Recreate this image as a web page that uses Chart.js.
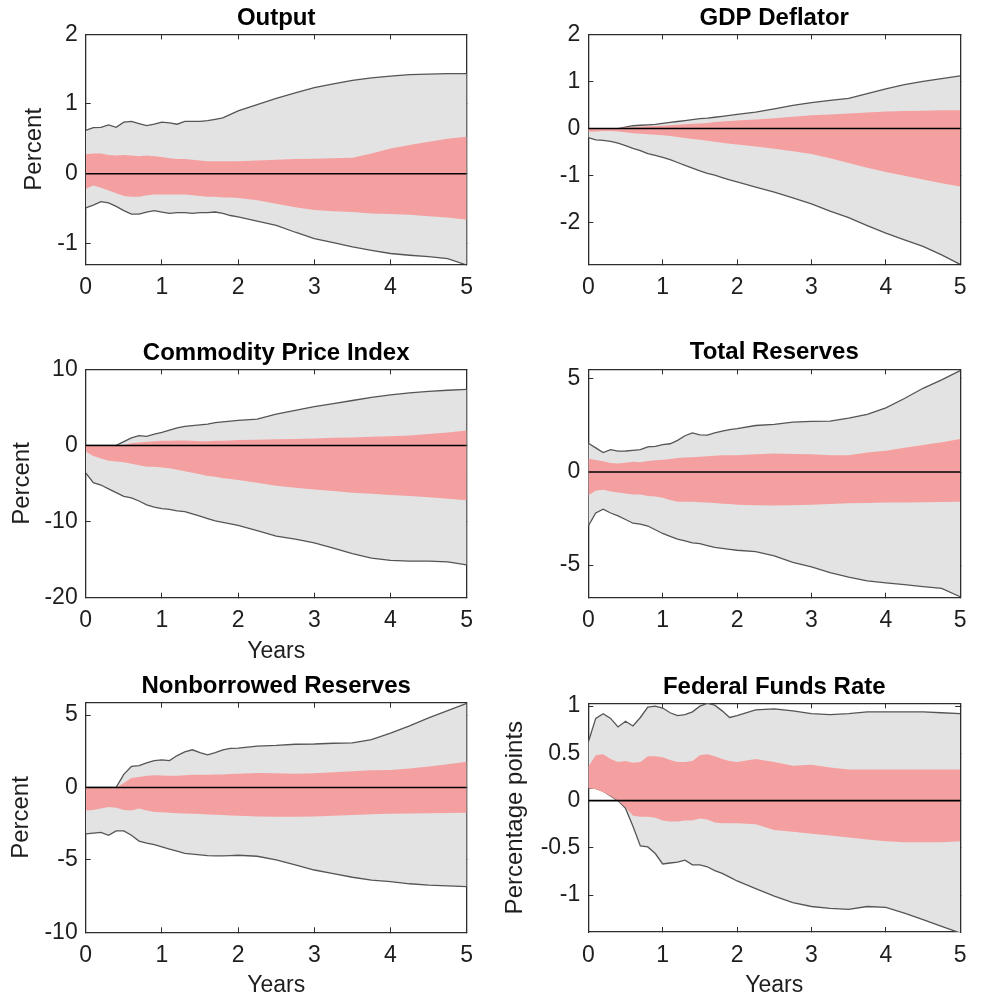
<!DOCTYPE html>
<html>
<head>
<meta charset="utf-8">
<script src="https://cdn.jsdelivr.net/npm/chart.js@4.4.1/dist/chart.umd.min.js"></script>
<style>
  html, body { margin: 0; padding: 0; background: #fff; overflow: hidden; }
  canvas { position: absolute; }
</style>
</head>
<body>
<canvas id="c1"></canvas>
<canvas id="c2"></canvas>
<canvas id="c3"></canvas>
<canvas id="c4"></canvas>
<canvas id="c5"></canvas>
<canvas id="c6"></canvas>
<script>
// horizon in years (shared by all panels)
const years = [0, 0.1, 0.2, 0.3, 0.4, 0.5, 0.6, 0.7, 0.8, 0.9,
  1.0, 1.1, 1.2, 1.3, 1.4, 1.5, 1.6, 1.7, 1.8, 1.9,
  2.0, 2.25, 2.5, 2.75, 3.0, 3.25, 3.5, 3.75, 4.0, 4.25, 4.5, 4.75, 5.0];
const xTicks = [0, 1, 2, 3, 4, 5];

// Output
const outputGrayHi = [0.62, 0.66, 0.665, 0.70, 0.665, 0.74, 0.75, 0.72, 0.69, 0.71,
  0.74, 0.73, 0.71, 0.75, 0.75, 0.75, 0.76, 0.78, 0.80, 0.85,
  0.90, 0.99, 1.08, 1.16, 1.235, 1.29, 1.34, 1.375, 1.40, 1.42, 1.43, 1.435, 1.435];
const outputGrayLo = [-0.49, -0.45, -0.40, -0.42, -0.47, -0.53, -0.58, -0.58, -0.55, -0.53,
  -0.55, -0.57, -0.56, -0.56, -0.57, -0.56, -0.56, -0.55, -0.57, -0.60,
  -0.62, -0.68, -0.74, -0.84, -0.93, -0.99, -1.05, -1.10, -1.145, -1.17, -1.19, -1.22, -1.31];
const outputPinkHi = [0.28, 0.29, 0.29, 0.27, 0.26, 0.27, 0.26, 0.25, 0.26, 0.25,
  0.24, 0.22, 0.21, 0.21, 0.20, 0.19, 0.18, 0.18, 0.18, 0.18,
  0.18, 0.19, 0.20, 0.21, 0.215, 0.22, 0.23, 0.29, 0.36, 0.41, 0.46, 0.50, 0.53];
const outputPinkLo = [-0.22, -0.17, -0.20, -0.24, -0.28, -0.32, -0.33, -0.33, -0.31, -0.30,
  -0.30, -0.30, -0.30, -0.30, -0.31, -0.32, -0.33, -0.33, -0.34, -0.34,
  -0.35, -0.38, -0.43, -0.48, -0.52, -0.54, -0.55, -0.57, -0.58, -0.59, -0.61, -0.63, -0.66];
const outputTicks = [-1, 0, 1, 2];

// GDP Deflator
const gdpGrayHi = [-0.02, -0.02, -0.02, -0.01, 0, 0.03, 0.06, 0.07, 0.08, 0.09,
  0.11, 0.13, 0.15, 0.17, 0.19, 0.21, 0.22, 0.24, 0.26, 0.28,
  0.30, 0.35, 0.42, 0.49, 0.55, 0.60, 0.64, 0.74, 0.84, 0.93, 1.00, 1.06, 1.12];
const gdpGrayLo = [-0.19, -0.24, -0.25, -0.27, -0.31, -0.36, -0.42, -0.47, -0.53, -0.57,
  -0.61, -0.66, -0.72, -0.78, -0.84, -0.90, -0.95, -0.99, -1.04, -1.09,
  -1.13, -1.24, -1.35, -1.47, -1.60, -1.75, -1.89, -2.06, -2.22, -2.36, -2.50, -2.68, -2.88];
const gdpPinkHi = [0, 0, 0, 0.005, 0.01, 0.02, 0.03, 0.04, 0.05, 0.055,
  0.06, 0.07, 0.08, 0.09, 0.10, 0.11, 0.12, 0.14, 0.15, 0.16,
  0.17, 0.19, 0.22, 0.25, 0.28, 0.30, 0.32, 0.34, 0.36, 0.37, 0.38, 0.39, 0.39];
const gdpPinkLo = [-0.07, -0.06, -0.05, -0.05, -0.06, -0.08, -0.10, -0.11, -0.12, -0.13,
  -0.14, -0.16, -0.18, -0.20, -0.22, -0.24, -0.26, -0.28, -0.30, -0.32,
  -0.34, -0.38, -0.43, -0.48, -0.54, -0.63, -0.73, -0.83, -0.92, -1.00, -1.08, -1.16, -1.23];
const gdpTicks = [-2, -1, 0, 1, 2];

// Commodity Price Index
const cpiGrayHi = [0, 0, 0, 0, 0, 0.5, 1.0, 1.3, 1.2, 1.5,
  1.7, 2.0, 2.3, 2.5, 2.6, 2.7, 2.8, 3.0, 3.1, 3.2,
  3.3, 3.45, 4.1, 4.6, 5.1, 5.5, 5.9, 6.3, 6.65, 6.9, 7.1, 7.25, 7.35];
const cpiGrayLo = [-3.6, -4.9, -5.2, -5.7, -6.2, -6.7, -6.9, -7.3, -7.8, -8.1,
  -8.3, -8.4, -8.6, -8.7, -9.0, -9.3, -9.6, -9.9, -10.1, -10.3,
  -10.5, -11.2, -11.9, -12.3, -12.8, -13.5, -14.2, -14.8, -15.1, -15.2, -15.2, -15.3, -15.7];
const cpiPinkHi = [0, 0, 0, 0, 0, 0.1, 0.3, 0.4, 0.5, 0.55,
  0.6, 0.6, 0.65, 0.65, 0.6, 0.55, 0.55, 0.6, 0.6, 0.65,
  0.7, 0.75, 0.8, 0.85, 0.9, 1.0, 1.05, 1.15, 1.2, 1.3, 1.5, 1.7, 1.95];
const cpiPinkLo = [-0.8, -1.4, -1.7, -2.0, -2.1, -2.2, -2.4, -2.6, -2.8, -2.8,
  -2.9, -3.0, -3.2, -3.4, -3.6, -3.8, -4.0, -4.1, -4.3, -4.4,
  -4.55, -4.9, -5.3, -5.55, -5.8, -6.0, -6.2, -6.35, -6.5, -6.65, -6.8, -7.0, -7.2];
const cpiTicks = [-20, -10, 0, 10];

// Total Reserves
const trGrayHi = [1.55, 1.30, 1.05, 1.2, 1.12, 1.13, 1.17, 1.20, 1.35, 1.38,
  1.47, 1.52, 1.7, 1.95, 2.1, 2.0, 1.98, 2.1, 2.2, 2.28,
  2.33, 2.5, 2.56, 2.68, 2.72, 2.74, 2.9, 3.1, 3.45, 3.95, 4.5, 4.95, 5.45];
const trGrayLo = [-2.9, -2.2, -2.0, -2.2, -2.35, -2.55, -2.75, -2.8, -2.9, -3.1,
  -3.3, -3.45, -3.6, -3.7, -3.8, -3.85, -3.95, -4.05, -4.1, -4.15,
  -4.2, -4.27, -4.5, -4.85, -5.1, -5.4, -5.65, -5.85, -5.95, -6.05, -6.15, -6.25, -6.7];
const trPinkHi = [0.72, 0.65, 0.58, 0.48, 0.46, 0.5, 0.55, 0.52, 0.6, 0.64,
  0.66, 0.7, 0.75, 0.78, 0.8, 0.82, 0.85, 0.88, 0.9, 0.9,
  0.9, 0.95, 1.0, 0.97, 0.95, 0.9, 0.9, 1.05, 1.15, 1.3, 1.45, 1.6, 1.78];
const trPinkLo = [-1.25, -1.0, -0.95, -1.05, -1.1, -1.15, -1.2, -1.2, -1.28, -1.32,
  -1.38, -1.5, -1.6, -1.6, -1.6, -1.62, -1.64, -1.66, -1.7, -1.72,
  -1.75, -1.78, -1.8, -1.78, -1.76, -1.72, -1.68, -1.66, -1.64, -1.63, -1.62, -1.61, -1.6];
const trTicks = [-5, 0, 5];

// Nonborrowed Reserves
const nbrGrayHi = [0, 0, 0, 0, 0, 0.9, 1.45, 1.5, 1.7, 1.85,
  1.9, 1.85, 2.2, 2.45, 2.6, 2.4, 2.25, 2.4, 2.6, 2.7,
  2.72, 2.85, 2.9, 2.98, 3.0, 3.05, 3.08, 3.3, 3.75, 4.25, 4.8, 5.3, 5.8];
const nbrGrayLo = [-3.2, -3.15, -3.1, -3.3, -3.0, -3.0, -3.3, -3.7, -3.85, -3.95,
  -4.1, -4.25, -4.4, -4.55, -4.6, -4.65, -4.7, -4.72, -4.72, -4.7,
  -4.68, -4.75, -5.0, -5.35, -5.7, -5.95, -6.2, -6.4, -6.5, -6.65, -6.75, -6.8, -6.85];
const nbrPinkHi = [0, 0, 0, 0, 0, 0.3, 0.65, 0.72, 0.8, 0.85,
  0.82, 0.8, 0.8, 0.85, 0.88, 0.88, 0.88, 0.9, 0.9, 0.92,
  0.95, 1.0, 0.98, 0.95, 0.98, 1.05, 1.12, 1.18, 1.2, 1.3, 1.45, 1.6, 1.77];
const nbrPinkLo = [-1.6, -1.55, -1.45, -1.35, -1.4, -1.55, -1.6, -1.45, -1.6, -1.7,
  -1.72, -1.75, -1.78, -1.8, -1.82, -1.84, -1.86, -1.88, -1.9, -1.93,
  -1.96, -2.0, -2.02, -2.02, -2.0, -1.95, -1.9, -1.85, -1.82, -1.8, -1.78, -1.76, -1.75];
const nbrTicks = [-10, -5, 0, 5];

// Federal Funds Rate
const ffrGrayHi = [0.62, 0.87, 0.92, 0.87, 0.78, 0.84, 0.79, 0.88, 0.99, 1.0,
  0.98, 0.93, 0.90, 0.91, 0.94, 1.0, 1.03, 1.01, 0.95, 0.88,
  0.90, 0.96, 0.97, 0.95, 0.92, 0.91, 0.92, 0.94, 0.94, 0.94, 0.94, 0.93, 0.92];
const ffrGrayLo = [0.13, 0.13, 0.10, 0.05, 0.0, -0.08, -0.27, -0.48, -0.49, -0.56,
  -0.67, -0.66, -0.65, -0.63, -0.68, -0.68, -0.70, -0.74, -0.77, -0.81,
  -0.85, -0.93, -1.01, -1.08, -1.12, -1.14, -1.15, -1.12, -1.13, -1.19, -1.26, -1.33, -1.40];
const ffrPinkHi = [0.36, 0.48, 0.49, 0.44, 0.41, 0.42, 0.40, 0.41, 0.47, 0.47,
  0.46, 0.43, 0.41, 0.41, 0.42, 0.48, 0.49, 0.47, 0.44, 0.42,
  0.41, 0.44, 0.41, 0.37, 0.38, 0.35, 0.33, 0.33, 0.33, 0.33, 0.33, 0.33, 0.33];
const ffrPinkLo = [0.13, 0.12, 0.09, 0.05, 0.0, -0.07, -0.16, -0.17, -0.17, -0.18,
  -0.21, -0.22, -0.22, -0.21, -0.21, -0.19, -0.20, -0.23, -0.24, -0.24,
  -0.24, -0.25, -0.31, -0.33, -0.35, -0.37, -0.39, -0.41, -0.43, -0.44, -0.44, -0.44, -0.43];
const ffrTicks = [-1, -0.5, 0, 0.5, 1];

const FONT = "'Liberation Sans', Arial, Helvetica, sans-serif";
const GRAY = 'rgb(227,227,227)';
const PINK = 'rgb(245,160,160)';
const EDGE = 'rgb(85,85,85)';
const AXIS = 'rgb(45,45,45)';
const TEXT = 'rgb(30,30,30)';
const TICK_LEN = -5;

// canvas box [left, top, w, h], plot area [x0, y0, x1, y1] in page px
const panels = [
  { id: 'c1', title: 'Output', box: [0, 0, 490, 310], plot: [85.7, 34.3, 466.7, 264.3], titleY: 18,
    hi: outputGrayHi, lo: outputGrayLo, phi: outputPinkHi, plo: outputPinkLo,
    ymin: -1.3, ymax: 2, yTicks: outputTicks, ylabel: 'Percent', ylabelX: 34.3, xlabel: false },
  { id: 'c2', title: 'GDP Deflator', box: [490, 0, 491, 310], plot: [588.3, 34.3, 969.3, 264.3], titleY: 18,
    hi: gdpGrayHi, lo: gdpGrayLo, phi: gdpPinkHi, plo: gdpPinkLo,
    ymin: -2.88, ymax: 2, yTicks: gdpTicks, ylabel: null, xlabel: false },
  { id: 'c3', title: 'Commodity Price Index', box: [0, 310, 490, 358], plot: [85.7, 369.3, 466.7, 597.7], titleY: 353,
    hi: cpiGrayHi, lo: cpiGrayLo, phi: cpiPinkHi, plo: cpiPinkLo,
    ymin: -20, ymax: 10, yTicks: cpiTicks, ylabel: 'Percent', ylabelX: 22, xlabel: true, xlabelY: 651.3 },
  { id: 'c4', title: 'Total Reserves', box: [490, 310, 491, 358], plot: [588.3, 369.3, 969.3, 597.7], titleY: 352,
    hi: trGrayHi, lo: trGrayLo, phi: trPinkHi, plo: trPinkLo,
    ymin: -6.75, ymax: 5.52, yTicks: trTicks, ylabel: null, xlabel: false },
  { id: 'c5', title: 'Nonborrowed Reserves', box: [0, 668, 490, 330], plot: [85.7, 702.7, 466.7, 932.3], titleY: 686,
    hi: nbrGrayHi, lo: nbrGrayLo, phi: nbrPinkHi, plo: nbrPinkLo,
    ymin: -10, ymax: 5.85, yTicks: nbrTicks, ylabel: 'Percent', ylabelX: 21.2, xlabel: true, xlabelY: 985.6 },
  { id: 'c6', title: 'Federal Funds Rate', box: [490, 668, 491, 330], plot: [588.3, 703.3, 969.3, 932], titleY: 687,
    hi: ffrGrayHi, lo: ffrGrayLo, phi: ffrPinkHi, plo: ffrPinkLo,
    ymin: -1.39, ymax: 1.03, yTicks: ffrTicks, ylabel: 'Percentage points', ylabelX: 515.2, xlabel: true, xlabelY: 985.6 }
];

function pts(arr) {
  return years.map((x, i) => ({ x: x, y: arr[i] }));
}

function setTicks(list) {
  return function (scale) { scale.ticks = list.map(v => ({ value: v })); };
}

function makePanel(p) {
  const [L, T, W, H] = p.box;
  const [x0, y0, x1, y1] = p.plot;
  const canvas = document.getElementById(p.id);
  canvas.width = W;
  canvas.height = H;
  canvas.style.left = L + 'px';
  canvas.style.top = T + 'px';

  const tickFont = { family: FONT, size: 23, lineHeight: 1.2 };
  const labelFont = { family: FONT, size: 24, lineHeight: 1.2 };
  const titleTop = p.titleY - T - 14.4;
  const titleBottom = (y0 - T) - 28.8 - titleTop;

  const gridOpts = { drawOnChartArea: false, drawTicks: true, tickLength: TICK_LEN, color: AXIS, lineWidth: 1 };
  const borderOpts = { color: AXIS, width: 1.3 };

  new Chart(canvas.getContext('2d'), {
    type: 'line',
    data: {
      datasets: [
        { data: pts(p.hi), fill: '+1', backgroundColor: GRAY, borderColor: EDGE, borderWidth: 1.3, order: 3 },
        { data: pts(p.lo), fill: false, borderColor: EDGE, borderWidth: 1.3, order: 2 },
        { data: pts(p.phi), fill: '+1', backgroundColor: PINK, borderColor: 'rgba(0,0,0,0)', borderWidth: 0, order: 1 },
        { data: pts(p.plo), fill: false, borderColor: 'rgba(0,0,0,0)', borderWidth: 0, order: 1 },
        { data: [{ x: years[0], y: 0 }, { x: years[years.length - 1], y: 0 }], fill: false,
          borderColor: '#000', borderWidth: 1.6, order: 0 }
      ]
    },
    options: {
      responsive: false,
      animation: false,
      events: [],
      elements: { point: { radius: 0 }, line: { tension: 0 } },
      layout: { padding: { left: 0, top: 0, bottom: 0, right: L + W - x1 } },
      plugins: {
        legend: { display: false },
        tooltip: { enabled: false },
        title: {
          display: true,
          text: p.title,
          fullSize: false,
          color: '#000',
          font: { family: FONT, size: 24, weight: 'bold', lineHeight: 1.2 },
          padding: { top: titleTop, bottom: titleBottom }
        }
      },
      scales: {
        x: {
          type: 'linear', position: 'bottom', min: 0, max: 5,
          afterBuildTicks: setTicks(xTicks),
          afterFit: s => { s.height = T + H - y1; },
          ticks: { font: tickFont, color: TEXT, padding: 23.2 - 13.8 - TICK_LEN, maxRotation: 0, autoSkip: false,
            callback: v => String(v) },
          grid: gridOpts,
          border: borderOpts,
          title: { display: p.xlabel, text: 'Years', color: TEXT,
            font: { family: FONT, size: 23, lineHeight: 1.0 },
            padding: { top: 0, bottom: p.xlabel ? (T + H - p.xlabelY - 11.5) : 0 } }
        },
        x2: {
          type: 'linear', position: 'top', min: 0, max: 5,
          afterBuildTicks: setTicks(xTicks),
          afterFit: s => { s.height = 0; },
          ticks: { display: false },
          grid: gridOpts,
          border: borderOpts
        },
        y: {
          type: 'linear', position: 'left', min: p.ymin, max: p.ymax,
          afterBuildTicks: setTicks(p.yTicks),
          afterFit: s => { s.width = x0 - L; },
          ticks: { font: tickFont, color: TEXT, padding: 8 - TICK_LEN, autoSkip: false,
            callback: v => String(v) },
          grid: gridOpts,
          border: borderOpts,
          title: { display: !!p.ylabel, text: p.ylabel || '', color: TEXT, font: labelFont,
            padding: { top: p.ylabel ? (p.ylabelX - L - 14.4) : 0, bottom: 0 } }
        },
        y2: {
          type: 'linear', position: 'right', min: p.ymin, max: p.ymax,
          afterBuildTicks: setTicks(p.yTicks),
          afterFit: s => { s.width = 0; },
          ticks: { display: false },
          grid: gridOpts,
          border: borderOpts
        }
      }
    }
  });
}

panels.forEach(makePanel);
</script>
</body>
</html>
